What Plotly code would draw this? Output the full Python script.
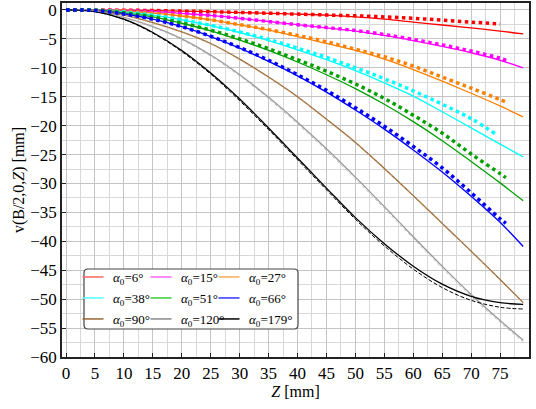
import plotly.graph_objects as go

# ---------------- data ----------------
Z = [0, 5, 10, 15, 20, 25, 30, 35, 40, 45, 50, 55, 60, 65, 70, 75, 79]

theory_6 = [0, -0.01, -0.05, -0.1, -0.2, -0.3, -0.45, -0.58, -0.72, -0.9, -1.2, -1.6, -2.1, -2.6, -3.1, -3.65, -4.15]
theory_15 = [0, -0.02, -0.12, -0.3, -0.6, -0.95, -1.45, -2.0, -2.55, -3.1, -3.65, -4.4, -5.3, -6.3, -7.4, -8.7, -10.0]
theory_27 = [0, -0.03, -0.2, -0.55, -1.05, -1.7, -2.6, -3.5, -4.6, -5.8, -7.0, -8.5, -10.3, -12.3, -14.4, -16.6, -18.5]
theory_38 = [0, -0.05, -0.35, -0.9, -1.7, -2.7, -3.9, -5.3, -6.9, -8.6, -10.5, -12.6, -14.9, -17.6, -20.4, -23.2, -25.4]
theory_51 = [0, -0.05, -0.5, -1.2, -2.3, -3.6, -5.2, -7.0, -9.0, -11.2, -13.6, -16.3, -19.3, -22.6, -26.2, -29.9, -33.0]
theory_66 = [0, -0.1, -0.7, -1.6, -2.9, -4.6, -6.6, -8.9, -11.4, -14.2, -17.3, -20.6, -24.2, -28.0, -32.2, -36.7, -40.9]
theory_90 = [0, -0.1, -0.9, -2.2, -3.8, -5.8, -8.5, -11.6, -15.0, -18.9, -22.9, -27.4, -32.1, -36.9, -41.7, -46.6, -50.6]
theory_120 = [0, -0.2, -1.3, -2.9, -5.0, -7.8, -11.2, -15.1, -19.4, -24.0, -28.9, -34.0, -39.2, -44.3, -49.2, -53.7, -57.1]
theory_179 = [0, -0.3, -1.6, -3.9, -7.0, -10.9, -15.4, -20.4, -25.6, -30.8, -35.9, -40.4, -44.3, -47.4, -49.5, -50.6, -50.9]

# measured / simulated curves (dotted)
Z_sim_6 = [0, 5, 10, 15, 20, 25, 30, 35, 40, 45, 50, 55, 60, 65, 70, 75]
sim_6 = [0, -0.01, -0.05, -0.1, -0.2, -0.3, -0.43, -0.57, -0.72, -0.87, -1.02, -1.2, -1.45, -1.75, -2.1, -2.45]
Z_sim_15 = [0, 5, 10, 15, 20, 25, 30, 35, 40, 45, 50, 55, 60, 65, 70, 75, 76.5]
sim_15 = [0, -0.02, -0.12, -0.3, -0.6, -0.95, -1.45, -2.0, -2.55, -3.05, -3.55, -4.25, -5.1, -6.05, -7.1, -8.35, -8.9]
Z_sim_27 = [0, 5, 10, 15, 20, 25, 30, 35, 40, 45, 50, 55, 60, 65, 70, 75, 76]
sim_27 = [0, -0.03, -0.2, -0.55, -1.05, -1.7, -2.55, -3.4, -4.4, -5.5, -6.8, -8.1, -9.7, -11.6, -13.5, -15.5, -15.9]
Z_sim_38 = [0, 5, 10, 15, 20, 25, 30, 35, 40, 45, 50, 55, 60, 65, 70, 74.5]
sim_38 = [0, -0.05, -0.35, -0.9, -1.7, -2.65, -3.8, -5.1, -6.6, -8.2, -10.0, -11.9, -14.0, -16.3, -18.8, -21.6]
Z_sim_51 = [0, 5, 10, 15, 20, 25, 30, 35, 40, 45, 50, 55, 60, 65, 70, 75, 76]
sim_51 = [0, -0.05, -0.5, -1.2, -2.25, -3.5, -5.0, -6.7, -8.6, -10.6, -12.8, -15.3, -18.2, -21.3, -24.9, -28.3, -29.0]
Z_sim_66 = [0, 5, 10, 15, 20, 25, 30, 35, 40, 45, 50, 55, 60, 65, 70, 75, 76]
sim_66 = [0, -0.1, -0.7, -1.6, -2.9, -4.55, -6.5, -8.7, -11.2, -13.9, -16.9, -20.1, -23.6, -27.3, -31.6, -36.1, -36.9]
sim_90 = [0, -0.1, -0.9, -2.25, -3.85, -5.9, -8.6, -11.7, -15.1, -19.0, -23.0, -27.5, -32.2, -37.0, -41.8, -46.7, -50.7]
sim_120 = [0, -0.2, -1.35, -3.0, -5.15, -8.0, -11.4, -15.35, -19.7, -24.3, -29.2, -34.3, -39.5, -44.6, -49.5, -54.0, -57.4]
sim_179 = [0, -0.3, -1.65, -4.0, -7.2, -11.1, -15.7, -20.7, -25.9, -31.1, -36.2, -40.8, -44.8, -48.0, -50.2, -51.4, -51.7]

angles = ["6", "15", "27", "38", "51", "66", "90", "120", "179"]
colors = ["#ff0000", "#ff00ff", "#ff8000", "#00ffff", "#00a000", "#0000ff", "#996633", "#999999", "#000000"]
legend_colors = ["#ff6666", "#ff66ff", "#ffaa55", "#55ffff", "#33cc33", "#3333ff", "#996633", "#888888", "#000000"]

x_ticks = list(range(0, 81, 5))
y_ticks = list(range(-60, 1, 5))

# ---------------- figure ----------------
SERIF = '"Liberation Serif", "Times New Roman", Times, serif'
fig = go.Figure()

theories = [theory_6, theory_15, theory_27, theory_38, theory_51, theory_66, theory_90, theory_120, theory_179]
for vals, col in zip(theories, colors):
    fig.add_trace(go.Scatter(x=Z, y=vals, mode="lines", line=dict(color=col, width=1.3, shape="spline"),
                             showlegend=False, hoverinfo="skip"))

# thin dotted/dashed companions for the large angles
fig.add_trace(go.Scatter(x=Z, y=sim_90, mode="lines", line=dict(color="#c8a070", width=1, dash="dot", shape="spline"),
                         showlegend=False, hoverinfo="skip"))
fig.add_trace(go.Scatter(x=Z, y=sim_120, mode="lines", line=dict(color="#bbbbbb", width=1, dash="dot", shape="spline"),
                         showlegend=False, hoverinfo="skip"))
fig.add_trace(go.Scatter(x=Z, y=sim_179, mode="lines", line=dict(color="#000000", width=1, dash="4px,2px", shape="spline"),
                         showlegend=False, hoverinfo="skip"))

sims = [(Z_sim_6, sim_6), (Z_sim_15, sim_15), (Z_sim_27, sim_27), (Z_sim_38, sim_38), (Z_sim_51, sim_51), (Z_sim_66, sim_66)]
for (zz, vals), col in zip(sims, colors[:6]):
    fig.add_trace(go.Scatter(x=zz, y=vals, mode="lines", line=dict(color=col, width=3.5, dash="dot", shape="spline"),
                             showlegend=False, hoverinfo="skip"))

# legend entries (3 rows of 3)
legend_names = ["legend", "legend2", "legend3"]
for i, (a, c) in enumerate(zip(angles, legend_colors)):
    fig.add_trace(go.Scatter(x=[None], y=[None], mode="markers",
                             marker=dict(symbol="line-ew-open", size=15, color=c, line=dict(color=c, width=1.5)),
                             name="<i>α</i><sub>0</sub>=" + a + "°", legend=legend_names[i // 3]))
# invisible spacer entry at the end of each row so the last column is not clipped
for name in legend_names:
    fig.add_trace(go.Scatter(x=[None], y=[None], mode="markers",
                             marker=dict(color="rgba(0,0,0,0)", size=1), name=" ", legend=name, hoverinfo="skip"))

# plot area: left 62, right 529, top 3, bottom 357 (px)
W, H = 536, 409
L, R, T, B = 62, 7, 3, 52
pw, ph = W - L - R, H - T - B

def px2paper(px, py):
    return (px - L) / pw, (H - B - py) / ph

leg_font = dict(family=SERIF, size=13, color="black")
rows_py = [277, 298, 319]
leg_common = dict(orientation="h", bgcolor="rgba(0,0,0,0)", borderwidth=0, font=leg_font,
                  entrywidth=23, entrywidthmode="pixels", itemwidth=30, tracegroupgap=0,
                  xanchor="left", yanchor="middle")
lx, _ = px2paper(73, 0)
layout_legends = {}
for name, py in zip(legend_names, rows_py):
    _, ly = px2paper(0, py)
    layout_legends[name] = dict(x=lx, y=ly, **leg_common)

# rounded legend frame
x0, y0 = px2paper(84, 329)
x1, y1 = px2paper(298, 269)
rx, ry = 4 / pw, 4 / ph
path = (f"M{x0+rx},{y0} L{x1-rx},{y0} Q{x1},{y0} {x1},{y0+ry} L{x1},{y1-ry} Q{x1},{y1} {x1-rx},{y1} "
        f"L{x0+rx},{y1} Q{x0},{y1} {x0},{y1-ry} L{x0},{y0+ry} Q{x0},{y0} {x0+rx},{y0} Z")
fig.add_shape(type="path", path=path, xref="paper", yref="paper", layer="above",
              fillcolor="white", line=dict(color="#444444", width=1.2))

axis_common = dict(showline=True, linecolor="#222222", linewidth=1.5, mirror=True,
                   ticks="inside", ticklen=4, tickcolor="#222222", tickwidth=1,
                   showgrid=True, gridcolor="#c4c4c4", gridwidth=1, zeroline=False,
                   automargin=False,
                   tickfont=dict(family=SERIF, size=17, color="black"),
                   minor=dict(dtick=2.5, showgrid=True, gridcolor="#d8d8d8", gridwidth=1, ticks=""))

fig.update_layout(
    width=W, height=H,
    margin=dict(l=L, r=R, t=T, b=B, pad=0, autoexpand=False),
    paper_bgcolor="white", plot_bgcolor="white",
    font=dict(family=SERIF, size=16, color="black"),
    xaxis=dict(range=[-0.7, 80], tickmode="array", tickvals=x_ticks,
               title=dict(text="<i>Z</i> [mm]", font=dict(family=SERIF, size=16), standoff=2), **axis_common),
    yaxis=dict(range=[-60, 1.2], tickmode="array", tickvals=y_ticks,
               title=dict(text="v(B/2,0,<i>Z</i>) [mm]", font=dict(family=SERIF, size=16), standoff=2), **axis_common),
    **layout_legends,
)

fig.write_html("out.html", config={"displayModeBar": False},
               post_script="document.body.style.margin='0';document.body.style.overflow='hidden';")
